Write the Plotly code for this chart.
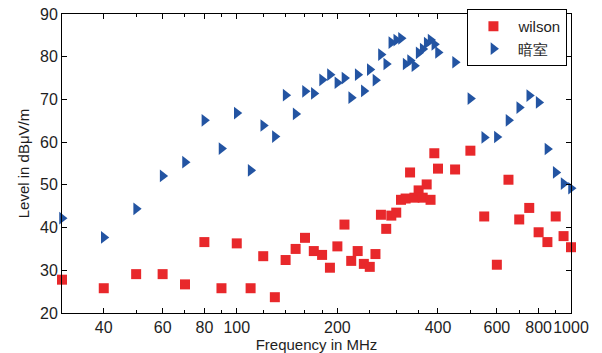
import plotly.graph_objects as go

freq = [30, 40, 50, 60, 70, 80, 90, 100, 110, 120, 130, 140, 150, 160, 170, 180, 190, 200,
        210, 220, 230, 240, 250, 260, 270, 280, 290, 300, 310, 320, 330, 340, 350, 360, 370,
        380, 390, 400, 450, 500, 550, 600, 650, 700, 750, 800, 850, 900, 950, 1000]

wilson = [27.8, 25.8, 29.1, 29.1, 26.7, 36.6, 25.8, 36.3, 25.8, 33.3, 23.7, 32.4, 35.0, 37.6,
          34.5, 33.6, 30.6, 35.6, 40.7, 32.2, 34.5, 31.5, 30.8, 33.8, 43.0, 39.7, 42.8, 43.5,
          46.5, 46.8, 52.9, 47.0, 48.7, 47.0, 50.1, 46.5, 57.4, 53.8, 53.6, 58.0, 42.6, 31.3,
          51.2, 41.9, 44.6, 38.9, 36.6, 42.6, 38.0, 35.4]

anshi = [42.2, 37.7, 44.4, 52.1, 55.3, 65.1, 58.5, 66.8, 53.4, 63.9, 61.3, 71.0, 66.6, 71.9,
         71.4, 74.6, 75.8, 73.9, 75.0, 70.4, 75.8, 72.0, 77.0, 74.5, 80.5, 78.3, 83.3, 83.9,
         84.3, 78.3, 79.1, 77.9, 80.9, 81.8, 83.2, 83.9, 82.9, 81.0, 78.7, 70.2, 61.1, 61.2,
         65.1, 68.1, 70.9, 69.3, 58.4, 52.9, 50.3, 49.2]

x_tick_vals = [40, 60, 80, 100, 200, 400, 600, 800, 1000]
x_tick_text = ["40", "60", "80", "100", "200", "400", "600", "800", "1000"]
x_minor_vals = [50, 70, 90, 120, 140, 160, 180, 250, 300, 350, 500, 700, 900]
y_tick_vals = [20, 30, 40, 50, 60, 70, 80, 90]

FONT = "Liberation Sans, Arial, sans-serif"
TXT = "#1e1e1e"

fig = go.Figure()
fig.add_trace(go.Scatter(
    x=freq, y=wilson, mode="markers", name="wilson", cliponaxis=False,
    marker=dict(symbol="square", size=10, color="#e8282b", line=dict(width=0))))
fig.add_trace(go.Scatter(
    x=freq, y=anshi, mode="markers", name="暗室", cliponaxis=False,
    marker=dict(symbol="triangle-right", size=11, color="#2354a2", line=dict(width=0))))

fig.update_layout(
    width=602, height=353,
    margin=dict(l=62, r=31, t=9, b=40),
    paper_bgcolor="white", plot_bgcolor="white",
    font=dict(family=FONT, size=15, color=TXT),
    showlegend=True,
    legend=dict(x=0.993, y=1.017, xanchor="right", yanchor="top",
                bordercolor="black", borderwidth=1, bgcolor="white",
                font=dict(family=FONT, size=15, color=TXT),
                itemwidth=40, tracegroupgap=0),
)

fig.update_xaxes(
    type="log", range=[1.47712, 3.0],
    tickmode="array", tickvals=x_tick_vals, ticktext=x_tick_text,
    tickangle=0,
    ticks="inside", ticklen=5, tickcolor="black", tickwidth=1,
    showline=True, linecolor="black", linewidth=1, mirror="allticks",
    showgrid=False, zeroline=False, automargin=False,
    tickfont=dict(family=FONT, size=16, color=TXT),
    minor=dict(tickmode="array", tickvals=x_minor_vals, ticks="inside",
               ticklen=3, tickcolor="black", tickwidth=1, showgrid=False),
    title=dict(text="Frequency in MHz", font=dict(family=FONT, size=15, color=TXT), standoff=7),
)
fig.update_yaxes(
    range=[20, 90],
    tickmode="array", tickvals=y_tick_vals,
    ticks="inside", ticklen=5, tickcolor="black", tickwidth=1,
    showline=True, linecolor="black", linewidth=1, mirror="allticks",
    showgrid=False, zeroline=False, automargin=False,
    tickfont=dict(family=FONT, size=16, color=TXT),
    title=dict(text="Level in dBμV/m", font=dict(family=FONT, size=15, color=TXT), standoff=6),
)

fig.write_html("out.html")
